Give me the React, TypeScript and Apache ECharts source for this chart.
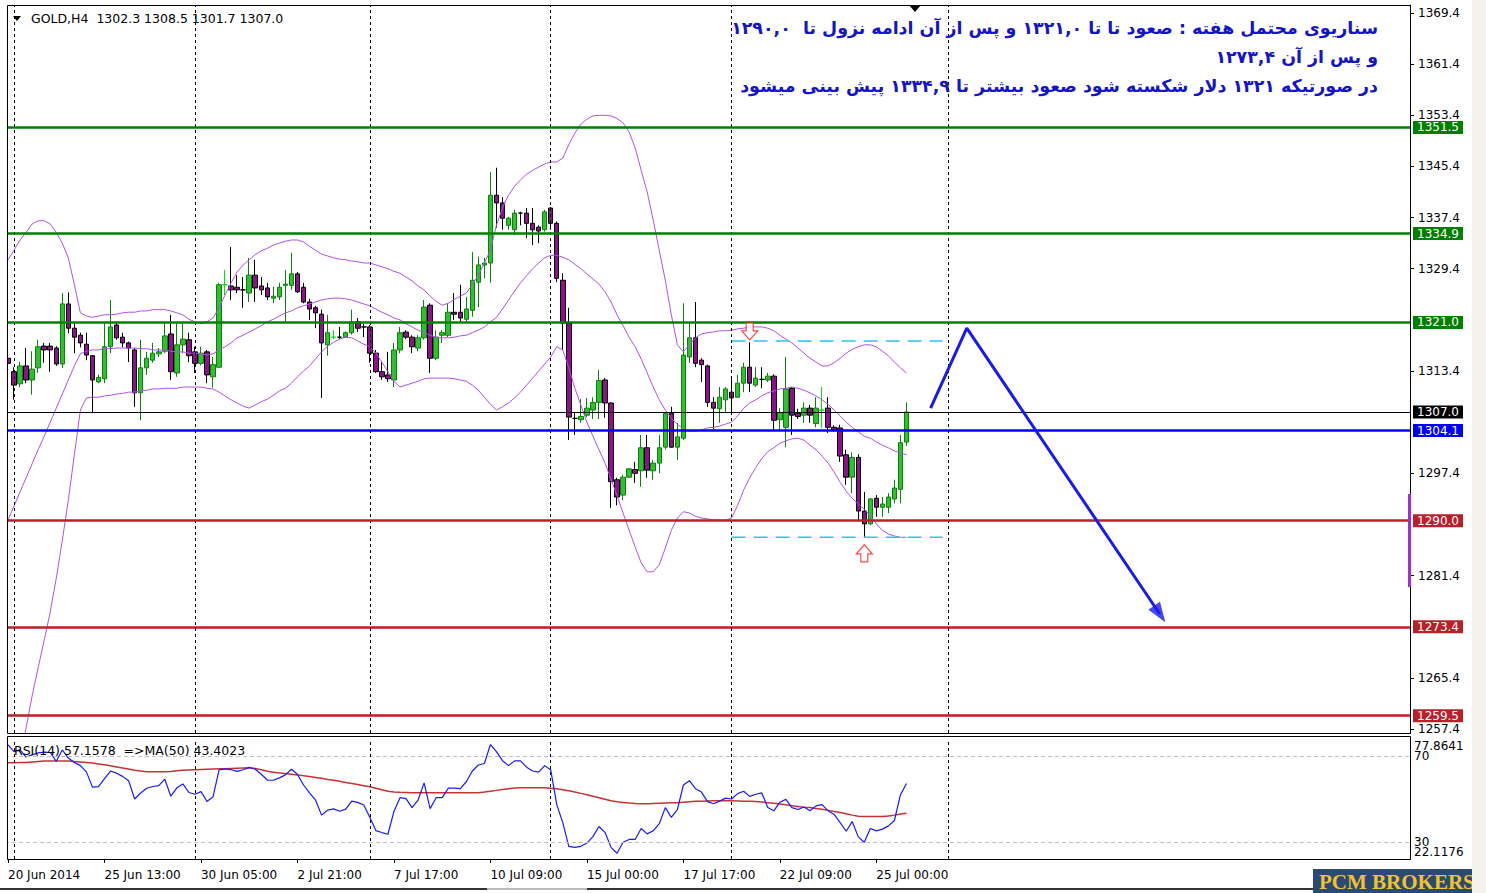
import React, { useEffect, useRef } from 'react';
import * as echarts from 'echarts';

const symbolName = 'GOLD';
const timeframe = 'H4';
const dateLabels = ['20 Jun 2014', '25 Jun 13:00', '30 Jun 05:00', '2 Jul 21:00', '7 Jul 17:00', '10 Jul 09:00', '15 Jul 00:00', '17 Jul 17:00', '22 Jul 09:00', '25 Jul 00:00'];
const labelStep = 16;
const categoryCount = 233;

const opens = [1315.4,1313.3,1311.4,1314.2,1312.0,1313.9,1317.3,1317.3,1317.0,1314.5,
1323.9,1320.1,1319.0,1317.6,1315.8,1311.7,1312.2,1317.2,1320.6,1318.7,
1317.8,1316.7,1310.0,1313.9,1315.1,1316.1,1316.5,1319.2,1313.1,1317.5,
1318.3,1316.4,1314.6,1316.4,1312.5,1314.0,1326.9,1326.7,1326.5,1326.1,
1325.6,1328.4,1326.7,1326.4,1324.8,1325.0,1326.8,1326.8,1328.6,1326.5,
1324.2,1323.3,1322.3,1317.5,1318.7,1318.7,1318.7,1319.4,1321.1,1320.3,
1320.3,1316.2,1313.3,1312.8,1312.0,1316.7,1319.5,1318.7,1317.0,1318.6,
1323.7,1315.4,1319.0,1319.0,1322.6,1322.6,1321.5,1322.9,1327.3,1330.0,
1330.3,1340.9,1339.7,1336.2,1335.5,1338.1,1338.1,1336.5,1335.9,1335.5,
1338.9,1336.5,1327.6,1320.9,1306.0,1305.8,1306.5,1307.3,1308.5,1312.0,
1308.4,1296.4,1294.0,1296.8,1298.0,1297.8,1301.4,1297.8,1299.0,1301.5,
1306.8,1301.5,1302.9,1315.6,1318.6,1315.1,1314.2,1308.5,1307.5,1308.9,
1310.1,1309.3,1311.5,1314.0,1311.2,1312.1,1312.0,1312.6,1305.8,1304.6,
1310.7,1306.8,1306.5,1307.6,1305.2,1307.3,1307.6,1304.6,1304.5,1300.3,
1296.8,1299.9,1291.5,1289.5,1293.5,1292.1,1292.1,1293.4,1294.9,1302.3];
const highs = [1316.0,1314.0,1314.8,1317.0,1316.5,1318.3,1317.8,1317.8,1317.3,1325.6,
1325.7,1320.9,1319.4,1319.4,1315.9,1312.8,1320.9,1324.5,1320.9,1319.4,
1318.0,1317.0,1318.3,1316.4,1317.8,1317.0,1320.9,1322.2,1320.9,1320.9,
1319.4,1317.2,1317.2,1316.7,1315.6,1327.2,1329.2,1332.8,1328.4,1328.1,
1331.1,1330.8,1328.1,1327.2,1326.6,1327.2,1329.2,1331.9,1328.9,1327.2,
1324.7,1323.6,1323.0,1322.2,1319.8,1320.3,1319.6,1323.0,1321.7,1320.8,
1320.6,1316.7,1314.8,1316.4,1317.8,1320.3,1319.8,1319.0,1319.0,1324.5,
1324.0,1319.8,1319.8,1324.0,1325.6,1326.9,1325.0,1332.0,1331.3,1331.1,
1344.5,1345.2,1340.6,1337.5,1338.6,1338.3,1338.9,1338.9,1336.2,1338.6,
1339.0,1336.8,1328.7,1323.3,1306.9,1309.0,1309.2,1309.3,1313.6,1312.3,
1308.5,1296.7,1297.2,1298.2,1299.2,1303.4,1303.4,1299.5,1303.4,1307.0,
1307.8,1305.3,1324.0,1320.9,1324.2,1315.4,1314.4,1309.3,1310.9,1310.9,
1312.3,1312.8,1314.7,1317.9,1314.0,1314.0,1313.1,1312.9,1307.6,1315.6,
1310.9,1307.5,1308.5,1308.1,1309.3,1310.9,1309.3,1304.9,1305.0,1301.1,
1300.7,1300.4,1294.5,1293.5,1294.0,1293.7,1294.3,1296.4,1303.4,1308.5];
const lows = [1313.5,1308.9,1310.9,1311.5,1309.7,1313.1,1314.7,1313.3,1314.2,1313.9,
1319.3,1316.2,1317.1,1315.1,1306.8,1311.5,1311.5,1316.2,1318.3,1317.1,
1314.8,1307.8,1305.7,1312.8,1314.7,1315.6,1316.2,1312.0,1312.5,1316.2,
1314.8,1313.1,1314.3,1311.5,1310.8,1313.9,1325.3,1324.5,1325.6,1323.3,
1324.2,1324.2,1325.3,1324.5,1324.0,1324.5,1320.9,1326.1,1325.6,1324.0,
1321.4,1320.1,1309.2,1315.8,1318.4,1318.4,1318.6,1319.1,1319.5,1318.7,
1314.7,1313.1,1312.0,1311.7,1310.9,1316.2,1318.4,1316.2,1316.5,1318.3,
1313.1,1315.1,1317.8,1318.7,1321.4,1321.1,1321.1,1321.9,1323.4,1327.9,
1327.2,1335.8,1335.5,1335.5,1334.7,1336.2,1334.2,1333.1,1333.4,1335.2,
1335.5,1327.3,1316.7,1302.6,1303.4,1305.3,1306.2,1305.9,1305.9,1306.1,
1292.0,1292.4,1293.2,1296.7,1295.9,1295.3,1296.7,1296.4,1297.4,1301.1,
1301.4,1299.5,1302.6,1314.7,1314.0,1311.7,1307.8,1304.2,1305.3,1306.8,
1306.8,1309.2,1310.1,1310.1,1310.9,1310.7,1311.7,1304.2,1304.2,1301.5,
1303.4,1305.9,1305.3,1305.3,1304.6,1304.5,1303.7,1303.9,1299.2,1295.6,
1294.3,1290.1,1287.4,1289.3,1290.6,1290.6,1291.2,1292.7,1292.7,1301.7];
const closes = [1314.6,1311.2,1314.2,1312.0,1313.7,1317.2,1316.7,1316.7,1314.5,1323.9,
1320.1,1318.7,1317.8,1315.9,1312.0,1312.4,1317.2,1320.3,1318.6,1317.8,
1317.0,1310.0,1313.9,1315.4,1316.2,1316.4,1318.9,1313.3,1317.5,1318.4,
1315.8,1314.6,1316.2,1312.8,1314.4,1326.9,1326.9,1326.1,1326.1,1326.1,
1328.4,1326.4,1326.1,1325.0,1325.1,1326.5,1327.0,1328.6,1325.8,1324.2,
1323.1,1322.5,1317.8,1319.4,1318.7,1318.7,1319.4,1321.1,1320.1,1320.3,
1316.2,1313.3,1312.5,1312.2,1316.7,1319.4,1318.7,1317.2,1318.6,1323.4,
1315.4,1318.7,1319.4,1322.6,1322.3,1321.7,1323.1,1327.6,1330.0,1330.3,
1340.9,1339.7,1337.3,1337.3,1338.1,1338.1,1336.5,1335.5,1335.3,1338.3,
1336.5,1327.9,1320.9,1306.2,1306.0,1306.3,1307.6,1308.5,1311.9,1308.4,
1296.1,1293.7,1296.8,1298.1,1297.4,1301.4,1297.9,1299.0,1301.4,1306.8,
1301.5,1303.1,1315.9,1318.6,1314.6,1314.4,1308.5,1307.6,1309.3,1310.6,
1309.2,1311.5,1314.0,1311.5,1312.3,1312.1,1312.6,1305.7,1306.9,1310.6,
1306.5,1306.3,1307.6,1306.5,1307.6,1307.3,1304.6,1304.2,1300.1,1296.8,
1299.9,1291.5,1289.5,1293.4,1292.1,1292.6,1293.7,1295.1,1302.2,1307.0];
const dojiBlack = [39, 55, 59, 85, 94, 125];
const dojiLime = [36, 54, 135];

const bbUpper = [1330.8,1332.3,1333.9,1335.1,1336.4,1336.9,1336.9,1336.4,1335.1,1333.4,
1331.1,1326.9,1322.5,1322.0,1321.8,1322.0,1322.2,1322.2,1322.3,1322.5,
1322.6,1322.6,1322.8,1322.8,1323.0,1323.0,1323.0,1322.8,1322.5,1322.2,
1321.5,1321.1,1320.8,1321.1,1321.7,1323.3,1325.3,1327.2,1328.9,1330.0,
1330.8,1331.6,1332.2,1332.6,1333.1,1333.4,1333.7,1333.9,1333.9,1333.6,
1332.9,1332.3,1331.7,1331.4,1331.1,1330.9,1330.8,1330.6,1330.5,1330.3,
1330.3,1330.0,1329.7,1329.4,1329.0,1328.7,1328.1,1327.5,1326.7,1326.1,
1325.1,1324.3,1323.7,1324.0,1324.6,1325.1,1325.6,1326.9,1328.4,1330.3,
1332.3,1336.2,1338.9,1340.9,1342.3,1343.3,1344.2,1344.8,1345.3,1345.8,
1346.1,1346.1,1346.7,1348.8,1350.6,1352.0,1352.8,1353.3,1353.4,1353.4,
1353.3,1352.9,1352.2,1350.8,1348.3,1344.8,1341.4,1337.0,1332.3,1327.6,
1322.2,1317.5,1316.4,1317.5,1318.6,1319.2,1319.4,1319.5,1319.7,1319.7,
1319.8,1320.0,1320.1,1320.3,1320.3,1320.3,1320.1,1319.7,1319.0,1318.4,
1317.8,1317.0,1316.2,1315.4,1314.8,1314.2,1314.2,1314.7,1315.4,1316.2,
1316.8,1317.2,1317.5,1317.5,1317.2,1316.5,1315.8,1314.8,1313.9,1313.1];
const bbMiddle = [1290.1,1292.3,1294.5,1296.7,1298.9,1301.1,1303.2,1305.4,1307.6,1309.8,
1312.0,1314.2,1316.1,1316.5,1316.7,1316.7,1316.9,1316.9,1317.0,1317.0,
1317.0,1317.0,1316.9,1316.9,1316.7,1316.7,1316.7,1316.5,1316.4,1316.4,
1316.2,1316.2,1316.1,1315.9,1316.1,1316.7,1317.2,1317.8,1318.6,1319.0,
1319.5,1320.0,1320.5,1321.1,1321.5,1322.0,1322.5,1322.8,1323.3,1323.6,
1323.9,1324.2,1324.5,1324.7,1324.8,1324.8,1324.7,1324.5,1324.2,1323.9,
1323.6,1323.1,1322.6,1322.2,1321.7,1321.4,1320.8,1320.3,1319.8,1319.4,
1319.0,1318.7,1318.6,1318.6,1318.7,1318.9,1319.0,1319.4,1319.8,1320.3,
1321.1,1321.8,1323.1,1324.5,1325.9,1327.2,1328.3,1329.4,1330.3,1331.1,
1331.5,1331.5,1331.2,1330.8,1330.1,1329.4,1328.6,1327.8,1327.0,1325.8,
1324.2,1322.2,1320.5,1318.7,1317.2,1315.3,1313.1,1310.9,1308.9,1307.3,
1306.0,1305.1,1304.3,1304.0,1304.0,1304.2,1304.5,1304.6,1304.8,1305.1,
1305.4,1306.4,1307.6,1308.4,1308.9,1309.5,1310.0,1310.3,1310.6,1310.7,
1310.9,1310.7,1310.4,1310.0,1309.5,1308.9,1308.2,1307.3,1306.4,1305.4,
1304.6,1303.9,1303.2,1302.9,1302.3,1301.8,1301.4,1300.9,1300.6,1300.3];
const bbLower = [1244.4,1248.8,1253.2,1257.6,1262.6,1267.0,1271.3,1275.7,1281.0,1286.9,
1293.2,1300.3,1307.3,1309.2,1309.3,1309.3,1309.5,1309.6,1309.8,1309.9,
1310.1,1310.1,1310.3,1310.4,1310.6,1310.6,1310.7,1310.7,1310.7,1310.9,
1310.9,1310.9,1310.9,1310.7,1310.6,1310.1,1309.5,1308.9,1308.4,1307.9,
1307.6,1308.1,1308.6,1309.0,1309.6,1310.3,1310.7,1311.5,1312.5,1313.4,
1314.2,1315.3,1316.4,1317.3,1317.9,1318.4,1318.7,1318.6,1318.1,1317.6,
1317.2,1316.2,1314.8,1313.3,1311.8,1310.9,1311.2,1311.5,1311.8,1312.2,
1312.3,1312.3,1312.3,1312.3,1312.2,1312.0,1311.8,1311.2,1310.4,1309.3,
1308.2,1307.3,1307.8,1308.4,1309.2,1310.1,1311.2,1312.3,1313.4,1314.5,
1315.6,1317.2,1316.7,1313.9,1310.7,1308.1,1305.4,1303.2,1301.1,1299.0,
1296.5,1293.9,1291.2,1288.5,1285.9,1283.4,1282.0,1282.0,1283.1,1285.7,
1288.5,1290.4,1291.4,1291.2,1290.7,1290.4,1290.3,1290.1,1290.1,1290.1,
1290.4,1292.4,1294.8,1296.7,1298.3,1299.7,1300.8,1301.4,1302.1,1302.5,
1302.8,1302.9,1302.6,1301.8,1301.1,1300.1,1299.0,1297.6,1296.0,1294.6,
1293.5,1292.6,1291.8,1290.7,1289.5,1288.5,1287.9,1287.6,1287.4,1287.4];

const rsiValues = [75.1,72.0,72.8,69.5,70.5,71.4,71.8,71.6,67.5,72.8,
69.0,67.0,65.5,62.6,55.5,55.7,59.5,63.0,62.0,60.5,
58.5,50.0,52.8,55.0,55.8,56.2,59.2,51.3,55.2,57.0,
53.0,52.2,53.4,48.8,51.0,63.5,64.0,63.6,62.8,63.6,
64.7,63.8,61.5,58.8,58.7,59.8,61.2,63.8,61.5,56.5,
52.8,49.5,42.5,44.8,45.4,44.3,45.3,49.0,48.4,47.2,
41.5,35.3,34.4,33.6,44.2,50.6,50.2,46.0,49.5,57.5,
45.5,50.6,50.6,55.0,55.0,54.8,58.0,63.0,65.8,66.5,
75.3,72.0,67.8,65.5,67.7,67.7,64.8,63.0,62.5,65.5,
63.5,47.4,39.0,28.0,27.5,28.0,29.5,32.5,37.2,34.5,
27.5,24.8,29.9,31.2,31.2,36.3,33.8,35.2,38.5,46.0,
41.4,45.0,56.5,58.5,54.8,53.2,48.8,47.8,49.0,50.4,
50.0,52.5,53.6,51.2,52.2,52.8,46.0,44.5,48.5,49.8,
46.0,45.1,46.3,44.5,46.8,47.4,44.5,42.8,39.0,35.0,
39.5,32.4,29.9,36.3,35.2,36.0,37.5,40.0,52.0,57.2];
const rsiMaValues = [66.8,66.8,66.9,67.0,67.2,67.4,67.6,67.7,67.7,67.7,
67.6,67.4,67.2,67.0,66.7,66.3,65.9,65.4,64.9,64.4,
63.9,63.4,63.0,62.7,62.6,62.6,62.6,62.8,63.1,63.3,
63.5,63.6,63.7,63.8,63.9,64.0,64.1,64.2,64.3,64.4,
64.5,64.2,63.6,62.9,62.4,62.1,61.8,61.5,61.2,60.8,
60.4,60.0,59.6,59.1,58.7,58.2,57.7,57.2,56.7,56.2,
55.7,55.0,54.3,53.6,53.3,53.1,53.0,52.9,52.9,52.9,
52.9,52.9,52.9,52.9,52.9,52.9,52.9,52.9,52.9,53.2,
53.6,54.0,54.4,54.8,55.1,55.2,55.2,55.2,55.2,55.2,
55.0,54.7,54.3,53.8,53.2,52.6,52.0,51.3,50.6,49.9,
49.2,48.7,48.4,48.1,47.9,47.8,47.8,47.9,48.0,48.1,
48.2,48.3,48.5,48.7,48.9,49.0,49.1,49.2,49.2,49.2,
49.2,49.1,49.0,48.9,48.8,48.6,48.3,48.0,47.7,47.3,
46.9,46.5,46.2,46.0,45.6,45.2,44.7,44.2,43.7,43.1,
42.5,42.0,41.9,41.9,41.9,41.9,42.1,42.5,43.0,43.4];
const rsiLastText = '57.1578';
const rsiMaLastText = '43.4023';

const priceAxisMin = 1256.79;
const priceAxisMax = 1370.65;
const priceTicks = [1369.4, 1361.4, 1353.4, 1345.4, 1337.4, 1329.4, 1313.4, 1297.4, 1281.4, 1265.4, 1257.4];
const rsiScaleMax = 77.8641;
const rsiScaleMin = 22.1176;
const rsiScaleTicks = [77.8641, 22.1176];
const rsiLevels = [70, 30];
const weekStarts = [1, 31, 60, 90, 120, 156];

const levelValues = [1351.5, 1334.9, 1321.0, 1307.0, 1304.1, 1290.0, 1273.4, 1259.5];
const levelKinds = ['res', 'res', 'res', 'bid', 'pivot', 'sup', 'sup', 'sup'];

const rangeHigh = 1318.1;
const rangeLow = 1287.4;
const rangeFrom = 120;
const rangeTo = 155;
const fractalDown = [123, 1319.6];
const fractalUp = [142, 1284.9];
const forecastX = [153, 159, 191];
const forecastY = [1307.6, 1320.1, 1275.4];

const scenarioLines = [
  'سناریوی محتمل هفته : صعود تا تا ۱۳۲۱,۰ و پس از آن ادامه نزول تا  ۱۲۹۰,۰',
  'و پس از آن ۱۲۷۳,۴',
  'در صورتیکه ۱۳۲۱ دلار شکسته شود صعود بیشتر تا ۱۳۳۴,۹ پیش بینی میشود',
];

const FONT = 'DejaVu Sans';
const levelStyle: Record<string, { color: string; width: number }> = {
  res: { color: '#008000', width: 2.5 },
  bid: { color: '#000000', width: 1 },
  pivot: { color: '#0000ff', width: 2.5 },
  sup: { color: '#b8202a', width: 2.5 },
};
const BB_COLOR = '#b052e6';
const FORECAST_COLOR = '#1a1aee';

export default function App() {
  const ref = useRef<HTMLDivElement>(null);
  useEffect(() => {
    if (!ref.current) return;
    const chart = echarts.init(ref.current, undefined, { renderer: 'svg' });
    const categories = Array.from({ length: categoryCount }, (_, i) => 'c' + i);
    const labelFor = (idx: number) =>
      idx % labelStep === 0 && idx / labelStep < dateLabels.length ? dateLabels[idx / labelStep] : '';

    const candleData = opens.map((o, i) => {
      const value = [o, closes[i], lows[i], highs[i]];
      if (dojiLime.includes(i)) {
        const c = '#00e600';
        return { value, itemStyle: { color: c, color0: c, borderColor: c, borderColor0: c, borderColorDoji: c } };
      }
      if (dojiBlack.includes(i)) {
        const c = '#000000';
        return { value, itemStyle: { color: c, color0: c, borderColor: c, borderColor0: c, borderColorDoji: c } };
      }
      return value;
    });

    const levelLines = levelValues.map((v, i) => {
      const st = levelStyle[levelKinds[i]];
      return {
        yAxis: v,
        lineStyle: { color: st.color, width: st.width, type: 'solid' },
        label: {
          show: true,
          position: 'end',
          distance: 3,
          formatter: v.toFixed(1),
          color: '#ffffff',
          backgroundColor: st.color,
          padding: [1, 4, 0, 4],
          fontFamily: FONT,
          fontSize: 12,
        },
      };
    });
    const sepLines = weekStarts.map((x) => ({
      xAxis: x,
      lineStyle: { color: '#000000', width: 1, type: [3, 3] },
      label: { show: false },
    }));
    const rsiLevelLines = rsiLevels.map((v, i) => ({
      yAxis: v,
      lineStyle: { color: '#c0c0c0', width: 1, type: [4, 3] },
      label: {
        show: true, position: 'end', distance: 4, color: '#000', fontFamily: FONT, fontSize: 12,
        formatter: String(v),
        padding: i === 0 ? [0, 0, 8, 0] : [0, 0, 0, 0],
      },
    }));

    const arrowDown = 'path://M4.5,0 L11.5,0 L11.5,8 L16,8 L8,17 L0,8 L4.5,8 Z';
    const arrowUp = 'path://M8,0 L16,9 L11.5,9 L11.5,17 L4.5,17 L4.5,9 L0,9 Z';

    const forecastData = forecastX.map((x, i) => [x, forecastY[i]]);
    const last = forecastX.length - 1;

    const option: any = {
      animation: false,
      backgroundColor: '#ffffff',
      grid: [
        { left: 5, top: 5, width: 1405, height: 728 },
        { left: 5, top: 739, width: 1405, height: 120 },
      ],
      xAxis: [
        { type: 'category', gridIndex: 0, data: categories, boundaryGap: true, show: false },
        {
          type: 'category', gridIndex: 1, data: categories, boundaryGap: true,
          axisLine: { show: false },
          axisTick: { show: true, alignWithLabel: true, length: 4, interval: (i: number) => labelFor(i) !== '', lineStyle: { color: '#000' } },
          axisLabel: {
            interval: (i: number) => labelFor(i) !== '',
            formatter: (_v: string, i: number) => labelFor(i),
            align: 'left', margin: 10, color: '#000', fontFamily: FONT, fontSize: 12,
          },
        },
      ],
      yAxis: [
        {
          type: 'value', gridIndex: 0, position: 'right', min: priceAxisMin, max: priceAxisMax,
          splitLine: { show: false },
          axisLine: { show: true, lineStyle: { color: '#000', width: 1 } },
          axisTick: { show: true, customValues: priceTicks, length: 4, lineStyle: { color: '#000' } },
          axisLabel: { customValues: priceTicks, formatter: (v: number) => v.toFixed(1), margin: 8, color: '#000', fontFamily: FONT, fontSize: 12 },
        },
        {
          type: 'value', gridIndex: 1, position: 'right', min: rsiScaleMin - 0.01, max: rsiScaleMax + 0.01,
          splitLine: { show: false },
          axisLine: { show: true, lineStyle: { color: '#000', width: 1 } },
          axisTick: { show: false },
          axisLabel: {
            customValues: rsiScaleTicks, showMinLabel: true, showMaxLabel: true, margin: 4, color: '#000', fontFamily: FONT, fontSize: 12,
            formatter: (v: number) => (v > 50 ? '{t|' + rsiScaleMax.toFixed(4) + '}' : '{b|' + rsiScaleMin.toFixed(4) + '}'),
            rich: {
              t: { padding: [14, 0, 0, 0], fontFamily: FONT, fontSize: 12, color: '#000' },
              b: { padding: [0, 0, 14, 0], fontFamily: FONT, fontSize: 12, color: '#000' },
            },
          },
        },
      ],
      series: [
        {
          type: 'candlestick', name: 'GOLD', xAxisIndex: 0, yAxisIndex: 0, data: candleData, barWidth: 5, z: 3,
          itemStyle: { color: '#2fc02f', color0: '#8f0f8f', borderColor: '#0b800b', borderColor0: '#000000', borderWidth: 1 },
          markLine: { silent: true, symbol: ['none', 'none'], animation: false, data: [...sepLines] },
        },
        { type: 'line', name: 'BB upper', xAxisIndex: 0, yAxisIndex: 0, data: bbUpper, symbol: 'none', lineStyle: { color: BB_COLOR, width: 1 }, z: 4 },
        { type: 'line', name: 'BB middle', xAxisIndex: 0, yAxisIndex: 0, data: bbMiddle, symbol: 'none', lineStyle: { color: BB_COLOR, width: 1 }, z: 4,
          markLine: { silent: true, symbol: ['none', 'none'], animation: false, data: levelLines } },
        { type: 'line', name: 'BB lower', xAxisIndex: 0, yAxisIndex: 0, data: bbLower, symbol: 'none', lineStyle: { color: BB_COLOR, width: 1 }, z: 4 },
        { type: 'line', name: 'range high', xAxisIndex: 0, yAxisIndex: 0, data: [[rangeFrom, rangeHigh], [rangeTo, rangeHigh]], symbol: 'none', lineStyle: { color: '#2ec4f5', width: 1.5, type: [14, 8] }, z: 5 },
        { type: 'line', name: 'range low', xAxisIndex: 0, yAxisIndex: 0, data: [[rangeFrom, rangeLow], [rangeTo, rangeLow]], symbol: 'none', lineStyle: { color: '#2ec4f5', width: 1.5, type: [14, 8] }, z: 5 },
        { type: 'line', name: 'forecast', xAxisIndex: 0, yAxisIndex: 0, data: forecastData, symbol: 'none', lineStyle: { color: FORECAST_COLOR, width: 3 }, z: 6 },
        {
          type: 'scatter', name: 'forecast head', xAxisIndex: 0, yAxisIndex: 0, z: 7,
          data: [[forecastX[last], forecastY[last]]],
          symbol: 'triangle', symbolSize: [14, 20], symbolRotate: -146,
          itemStyle: { color: FORECAST_COLOR },
        },
        {
          type: 'scatter', name: 'fractals', xAxisIndex: 0, yAxisIndex: 0, z: 6,
          data: [
            { value: fractalDown, symbol: arrowDown },
            { value: fractalUp, symbol: arrowUp },
          ],
          symbolSize: [16, 17],
          itemStyle: { color: '#ffffff', borderColor: '#ff1a1a', borderWidth: 1.2 },
        },
        {
          type: 'line', name: 'RSI', xAxisIndex: 1, yAxisIndex: 1, data: rsiValues, symbol: 'none', lineStyle: { color: '#1a1aff', width: 1.2 }, z: 4,
          markLine: {
            silent: true, symbol: ['none', 'none'], animation: false,
            data: [...rsiLevelLines, ...sepLines],
          },
        },
        { type: 'line', name: 'MA', xAxisIndex: 1, yAxisIndex: 1, data: rsiMaValues, symbol: 'none', lineStyle: { color: '#c83232', width: 1.5 }, z: 3 },
      ],
      graphic: [
        { type: 'rect', z: 29, shape: { x: 0, y: 0, width: 7, height: 893 }, style: { fill: '#ffffff' } },
        { type: 'rect', z: 30, shape: { x: 7.5, y: 5.5, width: 1403, height: 728 }, style: { fill: 'none', stroke: '#000', lineWidth: 1 } },
        { type: 'rect', z: 30, shape: { x: 7.5, y: 736.5, width: 1403, height: 123 }, style: { fill: 'none', stroke: '#000', lineWidth: 1 } },
        { type: 'polygon', z: 31, shape: { points: [[13, 16], [21, 16], [17, 21]] }, style: { fill: '#000' } },
        { type: 'text', z: 31, x: 31, y: 18, style: { text: `${symbolName},${timeframe}  ${opens[149].toFixed(1)} ${highs[149].toFixed(1)} ${lows[149].toFixed(1)} ${closes[149].toFixed(1)}`, fill: '#000', font: `12.5px "${FONT}"`, verticalAlign: 'middle' } },
        { type: 'polygon', z: 31, shape: { points: [[909, 5], [921, 5], [915, 12]] }, style: { fill: '#000' } },
        { type: 'text', z: 31, x: 14, y: 750, style: { text: `RSI(14) ${rsiLastText}  =>MA(50) ${rsiMaLastText}`, fill: '#000', font: `12.5px "${FONT}"`, verticalAlign: 'middle' } },
        ...scenarioLines.map((t, i) => ({
          type: 'text', z: 32, x: 1378, y: 28 + i * 29,
          style: { text: t, fill: '#1414c8', font: `bold 17.4px "${FONT}"`, align: 'right', verticalAlign: 'middle' },
        })),
        { type: 'rect', z: 31, shape: { x: 1408, y: 494, width: 3, height: 93 }, style: { fill: '#9b30d9' } },
        { type: 'line', z: 31, shape: { x1: 0, y1: 889, x2: 487, y2: 889 }, style: { stroke: '#333', lineWidth: 2 } },
        { type: 'line', z: 31, shape: { x1: 487, y1: 889, x2: 587, y2: 889 }, style: { stroke: '#bbb', lineWidth: 2 } },
        { type: 'line', z: 31, shape: { x1: 587, y1: 889, x2: 1313, y2: 889 }, style: { stroke: '#333', lineWidth: 2 } },
        { type: 'rect', z: 40, shape: { x: 1313, y: 869, width: 160, height: 24 }, style: { fill: '#2a4a72' } },
        { type: 'text', z: 41, x: 1319, y: 882, style: { text: 'PCM BROKERS', fill: '#f2c230', font: 'bold 21px "Liberation Serif"', verticalAlign: 'middle' } },
        { type: 'rect', z: 50, shape: { x: 1472, y: 0, width: 14, height: 893 }, style: { fill: '#f4f2ea' } },
      ],
    };
    chart.setOption(option);
    return () => chart.dispose();
  }, []);
  return <div ref={ref} style={{ position: 'fixed', left: 0, top: 0, width: 1486, height: 893, background: '#fff' }} />;
}
